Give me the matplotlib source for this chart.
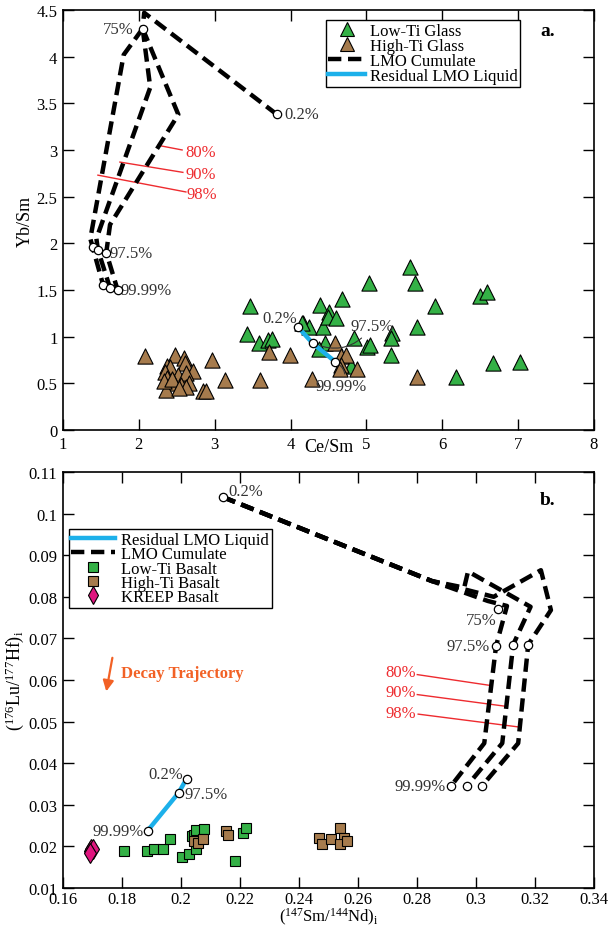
import numpy as np
import matplotlib
matplotlib.use('Agg')
import matplotlib.pyplot as plt
from matplotlib.lines import Line2D
from matplotlib.ticker import FormatStrFormatter

plt.rcParams['font.family'] = ['Liberation Serif', 'DejaVu Serif']
plt.rcParams['mathtext.fontset'] = 'custom'
plt.rcParams['mathtext.rm'] = 'Liberation Serif'
plt.rcParams['mathtext.it'] = 'Liberation Serif:italic'

# ---------------- panel a data (Ce/Sm vs Yb/Sm) ----------------
lowti_glass_ce_sm = [3.46, 3.43, 3.58, 3.70, 3.76, 4.17, 4.24, 4.39, 4.43, 4.46, 4.37, 4.50, 4.49,
                     4.60, 4.68, 5.57, 5.04, 5.64, 6.50, 6.59, 5.91, 5.67, 5.34, 5.32, 4.83, 5.01,
                     5.05, 5.32, 4.80, 6.67, 7.02, 6.18, 4.15]
lowti_glass_yb_sm = [1.33, 1.03, 0.93, 0.96, 0.97, 1.15, 1.10, 1.34, 1.10, 0.93, 0.87, 1.26, 1.21,
                     1.20, 1.40, 1.75, 1.57, 1.57, 1.44, 1.48, 1.33, 1.10, 1.04, 0.98, 0.99, 0.89,
                     0.91, 0.80, 0.69, 0.72, 0.73, 0.57, 1.15]
hiti_glass_ce_sm = [2.08, 2.47, 2.59, 2.61, 2.97, 2.72, 2.37, 2.41, 2.34, 2.51, 2.62, 2.37, 2.46,
                    2.55, 2.66, 2.62, 2.36, 2.84, 2.89, 3.14, 3.60, 3.72, 3.99, 4.28, 4.59, 4.67,
                    4.73, 4.66, 4.65, 4.88, 5.67, 2.33, 2.44, 2.53]
hiti_glass_yb_sm = [0.79, 0.80, 0.77, 0.72, 0.75, 0.63, 0.68, 0.67, 0.62, 0.59, 0.61, 0.56, 0.50,
                    0.48, 0.50, 0.46, 0.43, 0.42, 0.42, 0.54, 0.54, 0.83, 0.80, 0.55, 0.93, 0.79,
                    0.80, 0.70, 0.65, 0.65, 0.57, 0.52, 0.55, 0.45]

# LMO cumulate paths (0.2% -> 75%, then three branches 75% -> 97.5% -> 99.99%)
cum_a_trunk_x = [3.82, 2.07, 2.05]
cum_a_trunk_y = [3.38, 4.47, 4.30]
cum_a_b1_x = [2.05, 1.80, 1.36, 1.39, 1.53]
cum_a_b1_y = [4.30, 4.02, 2.05, 1.96, 1.55]
cum_a_b2_x = [2.05, 2.15, 1.44, 1.46, 1.62]
cum_a_b2_y = [4.30, 3.67, 2.05, 1.93, 1.52]
cum_a_b3_x = [2.05, 2.52, 1.62, 1.57, 1.72]
cum_a_b3_y = [4.30, 3.38, 2.20, 1.90, 1.50]
cum_a_marks_x = [3.82, 2.05, 1.39, 1.46, 1.57, 1.53, 1.62, 1.72]
cum_a_marks_y = [3.38, 4.30, 1.96, 1.93, 1.90, 1.55, 1.52, 1.50]

liq_a_x = [4.10, 4.29, 4.59]
liq_a_y = [1.10, 0.93, 0.73]

# ---------------- panel b data (147Sm/144Nd vs 176Lu/177Hf) ----------------
lowti_bas_sm_nd = [0.1806, 0.1884, 0.1908, 0.1938, 0.1962, 0.2003, 0.2026, 0.2050, 0.2036, 0.2043,
                   0.2050, 0.2077, 0.2182, 0.2209, 0.2222]
lowti_bas_lu_hf = [0.0190, 0.0190, 0.0193, 0.0195, 0.0217, 0.0174, 0.0181, 0.0193, 0.0226, 0.0228,
                   0.0240, 0.0243, 0.0166, 0.0233, 0.0245]
hiti_bas_sm_nd = [0.2043, 0.2057, 0.2074, 0.2151, 0.2158, 0.2469, 0.2479, 0.2510, 0.2540, 0.2551,
                  0.2540, 0.2561]
hiti_bas_lu_hf = [0.0214, 0.0209, 0.0217, 0.0236, 0.0228, 0.0221, 0.0206, 0.0218, 0.0245, 0.0221,
                  0.0207, 0.0212]
kreep_sm_nd = [0.1690, 0.1695, 0.1700, 0.1693]
kreep_lu_hf = [0.0188, 0.0193, 0.0195, 0.0184]

cum_b1_x = [0.2141, 0.2850, 0.3040, 0.3105, 0.3068, 0.3028, 0.2916]
cum_b1_y = [0.1040, 0.0838, 0.0790, 0.0778, 0.0682, 0.0448, 0.0346]
cum_b2_x = [0.2141, 0.2850, 0.2960, 0.2973, 0.3185, 0.3126, 0.3089, 0.2970]
cum_b2_y = [0.1040, 0.0838, 0.0822, 0.0861, 0.0776, 0.0685, 0.0448, 0.0346]
cum_b3_x = [0.2141, 0.2850, 0.3060, 0.3220, 0.3254, 0.3177, 0.3143, 0.3021]
cum_b3_y = [0.1040, 0.0838, 0.0800, 0.0864, 0.0768, 0.0685, 0.0448, 0.0346]
cum_b_marks_x = [0.2141, 0.3074, 0.3068, 0.3126, 0.3177, 0.2916, 0.2970, 0.3021]
cum_b_marks_y = [0.1040, 0.0771, 0.0682, 0.0685, 0.0685, 0.0346, 0.0346, 0.0346]

liq_b_x = [0.2019, 0.1992, 0.1887]
liq_b_y = [0.0363, 0.0329, 0.0238]

GREEN = '#34b146'
BROWN = '#a67b4d'
BLUE = '#1cb0ea'
RED = '#ee2b2f'
ORANGE = '#f26125'
PINK = '#e0157f'
GREY = '#333333'
DASH = (0, (3.0, 1.5))


def style_axes(ax):
    ax.tick_params(direction='in', length=8, width=1, top=True, right=True,
                   labelsize=12, pad=4, colors='black')
    for s in ax.spines.values():
        s.set_linewidth(1.2)


def circles(ax, x, y):
    ax.plot(x, y, 'o', ms=6, mfc='white', mec='black', mew=0.9, zorder=6, ls='none')


fig = plt.figure(figsize=(6.13, 9.28), dpi=100)

# ================= panel a =================
ax = fig.add_axes([0.1028, 0.5356, 0.8662, 0.4526])
ax.scatter(lowti_glass_ce_sm, lowti_glass_yb_sm, marker='^', s=120, c=GREEN,
           edgecolors='black', linewidths=0.8, zorder=3)
ax.scatter(hiti_glass_ce_sm, hiti_glass_yb_sm, marker='^', s=120, c=BROWN,
           edgecolors='black', linewidths=0.8, zorder=3)
for xs, ys in [(cum_a_trunk_x, cum_a_trunk_y), (cum_a_b1_x, cum_a_b1_y),
               (cum_a_b2_x, cum_a_b2_y), (cum_a_b3_x, cum_a_b3_y)]:
    ax.plot(xs, ys, color='black', lw=3.2, ls=DASH, zorder=4)
ax.plot(liq_a_x, liq_a_y, color=BLUE, lw=3.2, zorder=5)
circles(ax, cum_a_marks_x, cum_a_marks_y)
circles(ax, liq_a_x, liq_a_y)

ax.text(1.93, 4.30, '75%', ha='right', va='center', fontsize=12, color=GREY)
ax.text(3.92, 3.38, '0.2%', ha='left', va='center', fontsize=12, color=GREY)
ax.text(1.61, 1.90, '97.5%', ha='left', va='center', fontsize=12, color=GREY)
ax.text(1.76, 1.50, '99.99%', ha='left', va='center', fontsize=12, color=GREY)
ax.text(4.08, 1.20, '0.2%', ha='right', va='center', fontsize=12, color=GREY)
ax.annotate('97.5%', xy=(4.29, 0.93), xytext=(4.79, 1.11), ha='left', va='center',
            fontsize=12, color=GREY,
            arrowprops=dict(arrowstyle='-', color=GREY, lw=0.8,
                            connectionstyle='arc3,rad=-0.4', shrinkA=1, shrinkB=3))
ax.annotate('99.99%', xy=(4.59, 0.73), xytext=(4.67, 0.47), ha='center', va='center',
            fontsize=12, color=GREY,
            arrowprops=dict(arrowstyle='-', color=GREY, lw=0.8,
                            connectionstyle='arc3,rad=0.5', shrinkA=1, shrinkB=3))

# red melt-fraction labels
ax.plot([2.25, 2.57], [3.05, 3.00], color=RED, lw=1)
ax.plot([1.75, 2.58], [2.87, 2.76], color=RED, lw=1)
ax.plot([1.46, 2.62], [2.73, 2.55], color=RED, lw=1)
ax.text(2.61, 2.98, '80%', color=RED, fontsize=12, ha='left', va='center')
ax.text(2.61, 2.74, '90%', color=RED, fontsize=12, ha='left', va='center')
ax.text(2.63, 2.53, '98%', color=RED, fontsize=12, ha='left', va='center')

ax.text(0.913, 0.95, 'a.', transform=ax.transAxes, fontsize=14, fontweight='bold',
        ha='center', va='center')

ax.set_xlim(1, 8)
ax.set_ylim(0, 4.5)
ax.set_xticks(np.arange(1, 9, 1))
ax.set_yticks(np.arange(0, 4.51, 0.5))
ax.xaxis.set_major_formatter(FormatStrFormatter('%g'))
ax.yaxis.set_major_formatter(FormatStrFormatter('%g'))
style_axes(ax)
ax.set_xlabel('Ce/Sm', fontsize=13)
ax.xaxis.set_label_coords(0.5, -0.018)
ax.set_ylabel('Yb/Sm', fontsize=13, labelpad=2)

handles_a = [
    Line2D([], [], marker='^', ls='none', ms=10, mfc=GREEN, mec='black', mew=0.8),
    Line2D([], [], marker='^', ls='none', ms=10, mfc=BROWN, mec='black', mew=0.8),
    Line2D([], [], color='black', lw=3.2, ls=DASH),
    Line2D([], [], color=BLUE, lw=3.2),
]
leg = ax.legend(handles_a, ['Low-Ti Glass', 'High-Ti Glass', 'LMO Cumulate', 'Residual LMO Liquid'],
                loc='upper left', bbox_to_anchor=(0.495, 0.976), fontsize=12, frameon=True,
                fancybox=False, edgecolor='black', framealpha=1, labelspacing=-0.05,
                handlelength=2.2, handletextpad=0.3, borderpad=0.15, borderaxespad=0)
leg.get_frame().set_linewidth(1)

# ================= panel b =================
bx = fig.add_axes([0.1028, 0.0420, 0.8662, 0.4483])
bx.plot(lowti_bas_sm_nd, lowti_bas_lu_hf, 's', ms=7.5, mfc=GREEN, mec='black', mew=0.8, zorder=3)
bx.plot(hiti_bas_sm_nd, hiti_bas_lu_hf, 's', ms=7.5, mfc=BROWN, mec='black', mew=0.8, zorder=3)
bx.plot(kreep_sm_nd, kreep_lu_hf, 'd', ms=10, mfc=PINK, mec='black', mew=0.8, zorder=3)
for xs, ys in [(cum_b1_x, cum_b1_y), (cum_b2_x, cum_b2_y), (cum_b3_x, cum_b3_y)]:
    bx.plot(xs, ys, color='black', lw=3.2, ls=DASH, zorder=4)
bx.plot(liq_b_x, liq_b_y, color=BLUE, lw=3.2, zorder=5)
circles(bx, cum_b_marks_x, cum_b_marks_y)
circles(bx, liq_b_x, liq_b_y)

bx.text(0.2162, 0.1055, '0.2%', ha='left', va='center', fontsize=12, color=GREY)
bx.text(0.3070, 0.0744, '75%', ha='right', va='center', fontsize=12, color=GREY)
bx.text(0.3048, 0.0682, '97.5%', ha='right', va='center', fontsize=12, color=GREY)
bx.text(0.2896, 0.0346, '99.99%', ha='right', va='center', fontsize=12, color=GREY)
bx.text(0.2006, 0.0374, '0.2%', ha='right', va='center', fontsize=12, color=GREY)
bx.text(0.2013, 0.0327, '97.5%', ha='left', va='center', fontsize=12, color=GREY)
bx.text(0.1874, 0.0236, '99.99%', ha='right', va='center', fontsize=12, color=GREY)

bx.plot([0.2801, 0.3048], [0.0613, 0.0587], color=RED, lw=1)
bx.plot([0.2801, 0.3099], [0.0565, 0.0537], color=RED, lw=1)
bx.plot([0.2804, 0.3146], [0.0518, 0.0487], color=RED, lw=1)
bx.text(0.2795, 0.0620, '80%', color=RED, fontsize=12, ha='right', va='center')
bx.text(0.2795, 0.0570, '90%', color=RED, fontsize=12, ha='right', va='center')
bx.text(0.2798, 0.0520, '98%', color=RED, fontsize=12, ha='right', va='center')

bx.annotate('', xy=(0.1745, 0.0566), xytext=(0.1769, 0.0660),
            arrowprops=dict(arrowstyle='-|>', color=ORANGE, lw=1.6, mutation_scale=16))
bx.text(0.1796, 0.0616, 'Decay Trajectory', color=ORANGE, fontsize=12, fontweight='bold',
        ha='left', va='center')

bx.text(0.913, 0.935, 'b.', transform=bx.transAxes, fontsize=14, fontweight='bold',
        ha='center', va='center')

bx.set_xlim(0.16, 0.34)
bx.set_ylim(0.01, 0.11)
bx.set_xticks(np.arange(0.16, 0.3401, 0.02))
bx.set_yticks(np.arange(0.01, 0.1101, 0.01))
bx.xaxis.set_major_formatter(FormatStrFormatter('%g'))
bx.yaxis.set_major_formatter(FormatStrFormatter('%g'))
style_axes(bx)
bx.tick_params(axis='x', pad=2)
bx.set_xlabel(r'($^{147}$Sm/$^{144}$Nd)$_\mathrm{i}$', fontsize=12)
bx.xaxis.set_label_coords(0.5, -0.042)
bx.set_ylabel(r'($^{176}$Lu/$^{177}$Hf)$_\mathrm{i}$', fontsize=13, labelpad=2)

handles_b = [
    Line2D([], [], color=BLUE, lw=3.2),
    Line2D([], [], color='black', lw=3.2, ls=DASH),
    Line2D([], [], marker='s', ls='none', ms=6.5, mfc=GREEN, mec='black', mew=0.8),
    Line2D([], [], marker='s', ls='none', ms=6.5, mfc=BROWN, mec='black', mew=0.8),
    Line2D([], [], marker='d', ls='none', ms=9, mfc=PINK, mec='black', mew=0.8),
]
leg = bx.legend(handles_b, ['Residual LMO Liquid', 'LMO Cumulate', 'Low-Ti Basalt',
                            'High-Ti Basalt', 'KREEP Basalt'],
                loc='upper left', bbox_to_anchor=(0.011, 0.862), fontsize=12, frameon=True,
                fancybox=False, edgecolor='black', framealpha=1, labelspacing=-0.1,
                handlelength=2.6, handletextpad=0.4, borderpad=0.15, borderaxespad=0)
leg.get_frame().set_linewidth(1)

fig.savefig('out.png', dpi=100)
